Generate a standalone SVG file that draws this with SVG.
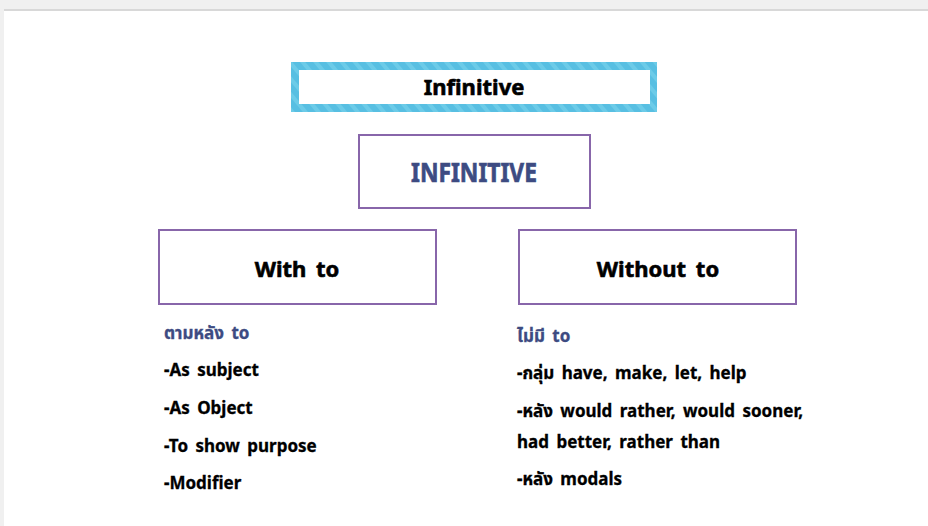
<svg xmlns="http://www.w3.org/2000/svg" width="928" height="526" viewBox="0 0 928 526">
<defs>
<pattern id="stripes" width="10" height="10" patternUnits="userSpaceOnUse" patternTransform="rotate(-40)">
<rect width="10" height="10" fill="#58bfe2"/>
<rect width="4" height="10" fill="#6ccbe8"/>
</pattern>
<style>
.t{font-family:"Noto Sans","Noto Sans Thai","Tahoma","DejaVu Sans",sans-serif;font-weight:bold;font-variant-ligatures:none}
.box{fill:#ffffff;stroke:#8866aa;stroke-width:2}
.h{font-size:22px;fill:#000;text-anchor:middle;stroke:#000;stroke-width:0.6}
.li{font-size:17px;fill:#000;word-spacing:3px;stroke:#000;stroke-width:0.3}
.blue{fill:#3d4b82;stroke:#3d4b82}
</style>
</defs>
<rect width="928" height="526" fill="#f0f0f0"/>
<rect x="4" y="11" width="924" height="515" fill="#ffffff"/>
<rect x="4" y="9" width="924" height="2" fill="#d8d8d8"/>

<g id="title">
<rect x="291" y="62" width="366" height="50" fill="url(#stripes)"/>
<rect x="299" y="70" width="351" height="34" fill="#ffffff"/>
<text class="t h" x="474" y="95" font-size="23">Infinitive</text>
</g>

<g id="infinitive">
<rect class="box" x="359" y="135" width="231" height="73"/>
<text class="t blue" x="474" y="182" font-size="27" stroke-width="0.7" text-anchor="middle" textLength="126" lengthAdjust="spacingAndGlyphs">INFINITIVE</text>
</g>

<g id="with-to">
<rect class="box" x="159" y="230" width="277" height="74"/>
<text class="t h" x="297" y="277" font-size="24.5" word-spacing="4">With to</text>
</g>

<g id="without-to">
<rect class="box" x="519" y="230" width="277" height="74"/>
<text class="t h" x="658" y="277" font-size="24.5" word-spacing="4">Without to</text>
</g>

<g id="with-to-list">
<text class="t li blue" x="164" y="339">ตามหลัง to</text>
<text class="t li" x="164" y="376">-As subject</text>
<text class="t li" x="164" y="414">-As Object</text>
<text class="t li" x="164" y="452">-To show purpose</text>
<text class="t li" x="164" y="489">-Modifier</text>
</g>

<g id="without-to-list">
<text class="t li blue" x="517" y="342">ไม่มี to</text>
<text class="t li" x="517" y="379">-กลุ่ม have, make, let, help</text>
<text class="t li" x="517" y="417" word-spacing="3.6">-หลัง would rather, would sooner,</text>
<text class="t li" x="517" y="448">had better, rather than</text>
<text class="t li" x="517" y="485">-หลัง modals</text>
</g>

<g id="connectors"/>
</svg>
